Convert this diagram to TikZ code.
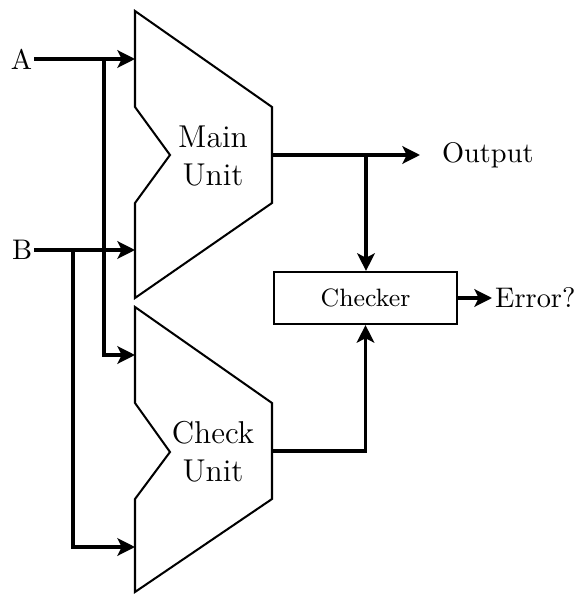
\documentclass[tikz,border=0pt]{standalone}
\usetikzlibrary{arrows.meta}
\begin{document}
\begin{tikzpicture}[x=0.37037pt,y=-0.37037pt,
  conn/.style={line width=1.3pt,-{Stealth[length=6.5pt,width=6.5pt,inset=1.6pt]}},
  unitshape/.style={line width=0.75pt,line join=miter},
  unitlabel/.style={align=center,font=\fontsize{11.7}{14}\selectfont,inner sep=0pt},
  iolabel/.style={font=\fontsize{10.5}{12.6}\selectfont,inner sep=0pt}]
\useasboundingbox (0,0) rectangle (579,594);
% units
\draw[unitshape] (135,11) -- (272,107) -- (272,203) -- (135,298) -- (135,203) -- (170,155) -- (135,107) -- cycle;
\draw[unitshape] (135,307) -- (272,403) -- (272,499) -- (135,592) -- (135,499) -- (170,452) -- (135,403) -- cycle;
\node[unitlabel] (mainlbl) at (213,156) {Main\\Unit};
\node[unitlabel] (chklbl) at (213,452) {Check\\Unit};
% ports
\coordinate (mainA) at (135,59);
\coordinate (mainB) at (135,250);
\coordinate (chkA) at (135,355);
\coordinate (chkB) at (135,547);
\coordinate (mainout) at (272,155);
\coordinate (chkout) at (272,451);
\coordinate (ja) at (104,59);
\coordinate (jb) at (73,250);
\coordinate (jo) at (366,155);
% labels
\node[iolabel,anchor=east,inner xsep=0.5pt] (A) at (34,59) {A};
\node[iolabel,anchor=east,inner xsep=0.5pt] (B) at (34,250) {B};
\node[iolabel,anchor=west,inner xsep=8pt] (out) at (420,155) {Output};
\node[draw,line width=0.75pt,minimum width=68.1pt,minimum height=19.3pt,inner sep=0pt,
      font=\fontsize{9.3}{11}\selectfont] (chk) at (365.5,298) {Checker};
\node[iolabel,anchor=west,inner xsep=1pt] (err) at (492,298) {Error?};
% connectors
\draw[conn] (A) -- (mainA);
\draw[conn] (ja) |- (chkA);
\draw[conn] (B) -- (mainB);
\draw[conn] (jb) |- (chkB);
\draw[conn] (mainout) -- (out.west);
\draw[conn] (jo) -- (jo |- chk.north);
\draw[conn] (chkout) -| (chk.south);
\draw[conn] (chk.east) -- (err.west);
\end{tikzpicture}
\end{document}
